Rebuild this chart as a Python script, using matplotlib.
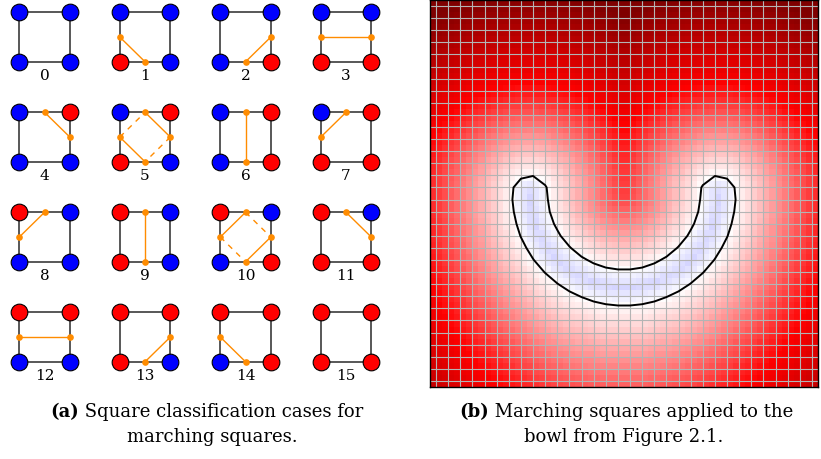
import numpy as np
import matplotlib
matplotlib.use("Agg")
import matplotlib.pyplot as plt

# ---------------- data ----------------
case_ids = list(range(16))
# corner bits: 1 = bottom-left, 2 = bottom-right, 4 = top-right, 8 = top-left (red = set)
case_solid = {
    0: [], 1: [("L", "B")], 2: [("B", "R")], 3: [("L", "R")],
    4: [("T", "R")], 5: [("T", "R"), ("L", "B")], 6: [("T", "B")], 7: [("L", "T")],
    8: [("L", "T")], 9: [("T", "B")], 10: [("L", "T"), ("R", "B")], 11: [("T", "R")],
    12: [("L", "R")], 13: [("B", "R")], 14: [("L", "B")], 15: [],
}
case_dashed = {5: [("L", "T"), ("R", "B")], 10: [("T", "R"), ("L", "B")]}

# bowl (field) parameters, in panel units [-1, 1]
bowl_radius = 0.485
bowl_halfwidth = 0.093
grid_n = 32          # sample grid (gray lines)
image_n = 64         # heat-map resolution

caption_a = ("(a)", "Square classification cases for", "marching squares.")
caption_b = ("(b)", "Marching squares applied to the", "bowl from Figure 2.1.")

# ---------------- figure ----------------
W, H = 821, 459
fig = plt.figure(figsize=(W / 100, H / 100), dpi=100)
ax = fig.add_axes([0, 0, 1, 1])
ax.set_xlim(0, W)
ax.set_ylim(H, 0)
ax.axis("off")

RED, BLUE, ORANGE = "#ff0000", "#0000ff", "#ff8c00"
serif = ["DejaVu Serif"]

for k in case_ids:
    col, row = k % 4, k // 4
    x0 = 19.3 + 100.5 * col
    x1 = x0 + 50.5
    y0 = 12.3 + 100.0 * row
    y1 = y0 + 49.5
    xm, ym = (x0 + x1) / 2, (y0 + y1) / 2
    mids = {"L": (x0, ym), "R": (x1, ym), "T": (xm, y0), "B": (xm, y1)}
    ax.plot([x0, x1, x1, x0, x0], [y0, y0, y1, y1, y0], color="#2a2a2a", lw=1.1, zorder=1)
    used = set()
    for a, b in case_solid[k]:
        ax.plot([mids[a][0], mids[b][0]], [mids[a][1], mids[b][1]], color=ORANGE, lw=1.0, zorder=2)
        used.update([a, b])
    for a, b in case_dashed.get(k, []):
        ax.plot([mids[a][0], mids[b][0]], [mids[a][1], mids[b][1]], color=ORANGE, lw=1.0,
                ls=(0, (4, 4)), zorder=2)
    corners = [((x0, y1), 1), ((x1, y1), 2), ((x1, y0), 4), ((x0, y0), 8)]
    for (cx, cy), bit in corners:
        ax.plot(cx, cy, "o", ms=12, mfc=RED if k & bit else BLUE, mec="black", mew=0.8, zorder=3)
    for m in used:
        ax.plot(*mids[m], "o", ms=4.8, mfc=ORANGE, mec=ORANGE, mew=0, zorder=4)
    ax.text(xm, y1 + 14, str(k), ha="center", va="center", fontsize=11, family=serif)

# captions
fig.canvas.draw()
renderer = fig.canvas.get_renderer()
CAP = 13


def caption(xc, y, bold, rest, size=CAP):
    t1 = ax.text(0, y, bold, fontweight="bold", fontsize=size, family=serif, va="center")
    t2 = ax.text(0, y, "\u00a0" + rest, fontsize=size, family=serif, va="center")
    w1 = t1.get_window_extent(renderer).width
    w2 = t2.get_window_extent(renderer).width
    start = xc - (w1 + w2) / 2
    t1.set_x(start)
    t2.set_x(start + w1)


caption(207, 412, caption_a[0], caption_a[1])
ax.text(212, 437, caption_a[2], ha="center", va="center", fontsize=CAP, family=serif)
caption(626, 412, caption_b[0], caption_b[1])
ax.text(624, 437, caption_b[2], ha="center", va="center", fontsize=CAP, family=serif)

# ---------------- panel (b) ----------------
axb = fig.add_axes([430 / W, (H - 387) / H, 388 / W, 387 / H])


def field(X, Y):
    r = np.hypot(X, Y)
    d_low = np.abs(r - bowl_radius)
    d_up = np.hypot(np.abs(X) - bowl_radius, Y)
    d = np.where(Y <= 0, d_low, d_up)
    w = np.where((Y <= 0) & (r > bowl_radius), 0.75 + 0.25 * (X / np.maximum(r, 1e-9)) ** 2, 1.0)
    ypos = np.maximum(Y, 0)
    t_out = 0.5 + 0.5 * w * (d - bowl_halfwidth) + 0.03 * ypos ** 2
    t_in = 0.5 - 0.04 * (bowl_halfwidth - d) / bowl_halfwidth + 0.03 * ypos ** 2
    return np.clip(np.where(d > bowl_halfwidth, t_out, t_in), 0, 1)


ci = (np.arange(image_n) + 0.5) / image_n * 2 - 1
XI, YI = np.meshgrid(ci, ci)
axb.imshow(field(XI, YI), cmap="seismic", vmin=0, vmax=1, origin="lower",
           extent=[-1, 1, -1, 1], interpolation="nearest", aspect="auto")

cg = (np.arange(grid_n) + 0.5) / grid_n * 2 - 1
for g in cg:
    axb.axvline(g, color="#b4b4b4", lw=0.8, zorder=2)
    axb.axhline(g, color="#b4b4b4", lw=0.8, zorder=2)
XG, YG = np.meshgrid(cg, cg)
axb.contour(XG, YG, field(XG, YG), levels=[0.5], colors="black", linewidths=1.4, zorder=3)
axb.set_xlim(-1, 1)
axb.set_ylim(-1, 1)
axb.set_xticks([])
axb.set_yticks([])
for s in axb.spines.values():
    s.set_linewidth(1.0)

fig.savefig("out.png", dpi=100)
